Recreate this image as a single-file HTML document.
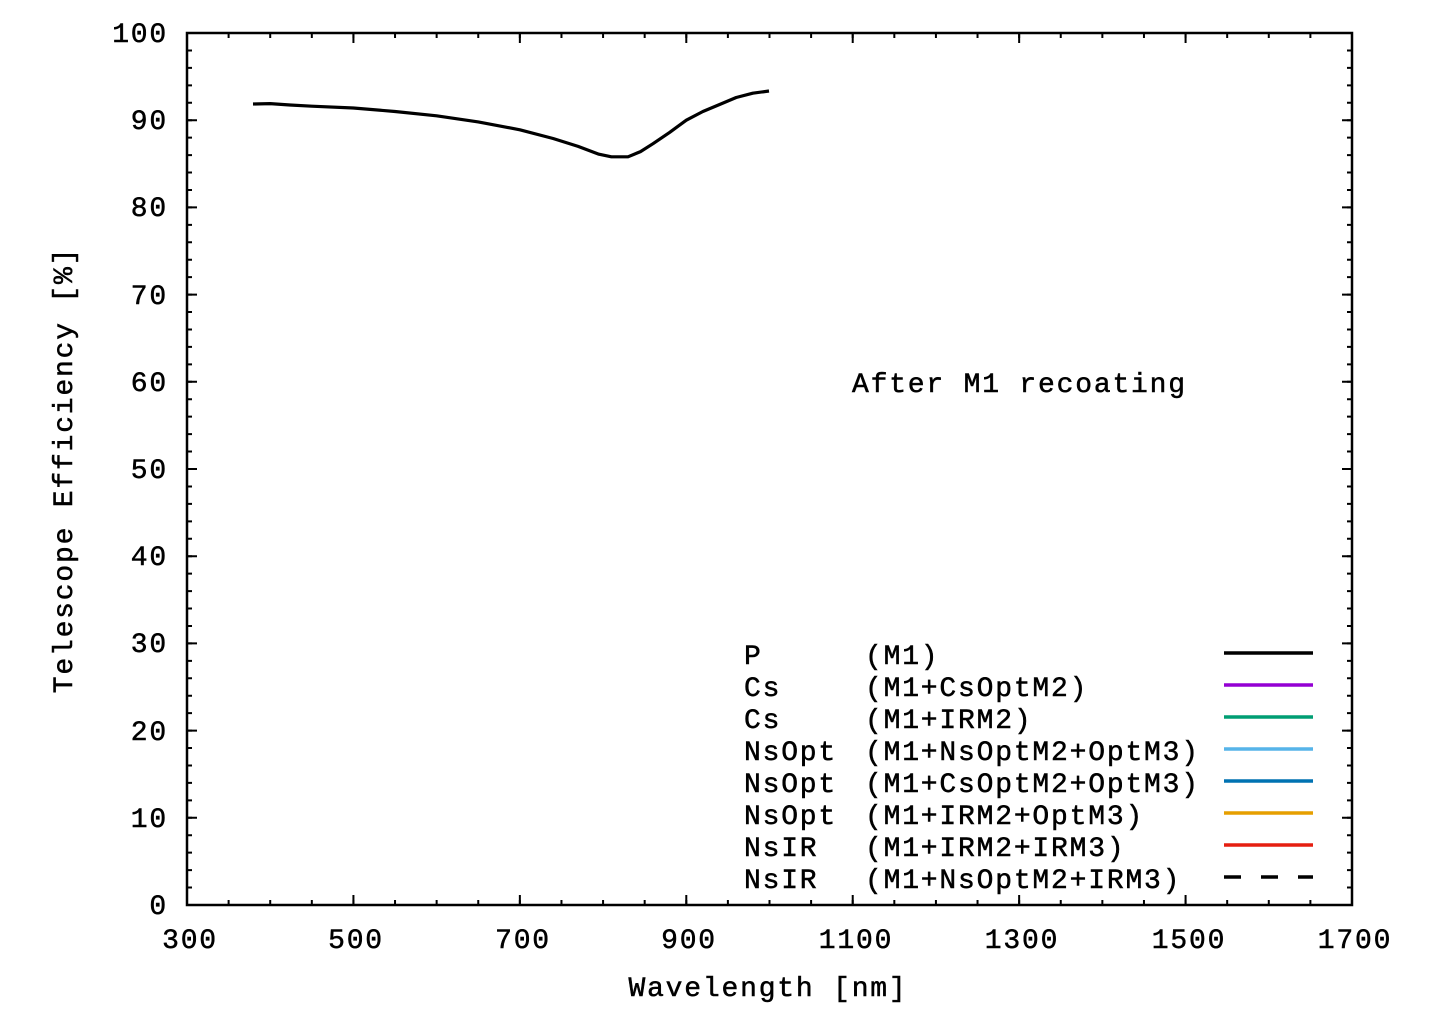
<!DOCTYPE html>
<html><head><meta charset="utf-8"><style>
html,body{margin:0;padding:0;background:#fff;}
svg text{font-family:"Liberation Mono","DejaVu Sans Mono",monospace;font-size:28px;letter-spacing:1.8px;fill:#000;stroke:#000;stroke-width:0.5;}
</style></head><body>
<svg width="1440" height="1008" viewBox="0 0 1440 1008" xmlns="http://www.w3.org/2000/svg">
<g stroke="#000" fill="none">
<line x1="186" x2="1353" y1="902.5" y2="902.5" stroke-width="5" stroke-dasharray="2 39.607"/>
<line x1="186" x2="1353" y1="35.5" y2="35.5" stroke-width="5" stroke-dasharray="2 39.607"/>
<line x1="186" x2="1353" y1="900" y2="900" stroke-width="10" stroke-dasharray="2 164.43"/>
<line x1="186" x2="1353" y1="38" y2="38" stroke-width="10" stroke-dasharray="2 164.43"/>
<line y1="906" y2="32" x1="189.5" x2="189.5" stroke-width="5" stroke-dasharray="2 15.44"/>
<line y1="906" y2="32" x1="1349.5" x2="1349.5" stroke-width="5" stroke-dasharray="2 15.44"/>
<line y1="906" y2="32" x1="192" x2="192" stroke-width="10" stroke-dasharray="2 85.2"/>
<line y1="906" y2="32" x1="1347" x2="1347" stroke-width="10" stroke-dasharray="2 85.2"/>
</g>
<rect x="187" y="33" width="1165" height="872" fill="none" stroke="#000" stroke-width="2.5"/>
<g text-anchor="middle">
<text x="190" y="948">300</text><text x="356" y="948">500</text><text x="523" y="948">700</text><text x="689" y="948">900</text>
<text x="856" y="948">1100</text><text x="1022" y="948">1300</text><text x="1189" y="948">1500</text><text x="1355" y="948">1700</text>
</g>
<g text-anchor="end">
<text x="168" y="914">0</text><text x="168" y="827">10</text><text x="168" y="740">20</text><text x="168" y="652">30</text>
<text x="168" y="565">40</text><text x="168" y="478">50</text><text x="168" y="391">60</text><text x="168" y="304">70</text>
<text x="168" y="216">80</text><text x="168" y="129">90</text><text x="168" y="42">100</text>
</g>
<text x="768" y="996" text-anchor="middle">Wavelength [nm]</text>
<text transform="translate(72,470) rotate(-90)" text-anchor="middle">Telescope Efficiency [%]</text>
<text x="852" y="392">After M1 recoating</text>
<polyline fill="none" stroke="#000" stroke-width="3.2" stroke-linejoin="round" points="253,104 270.2,103.6 290,105 311.8,106.2 353.4,108.0 395.0,111.5 436.6,115.8 478.3,121.9 519.9,129.8 553.1,138.5 578.1,146.4 598.9,154.2 611.4,156.8 628.0,156.8 640.5,151.6 653.0,143.7 669.6,132.4 686.3,120.2 702.9,111.5 719.6,104.5 736.2,97.5 752.8,93.2 769,91"/>
<g>
<text x="744" y="664">P</text><text x="865" y="664">(M1)</text>
<text x="744" y="696">Cs</text><text x="865" y="696">(M1+CsOptM2)</text>
<text x="744" y="728">Cs</text><text x="865" y="728">(M1+IRM2)</text>
<text x="744" y="760">NsOpt</text><text x="865" y="760">(M1+NsOptM2+OptM3)</text>
<text x="744" y="792">NsOpt</text><text x="865" y="792">(M1+CsOptM2+OptM3)</text>
<text x="744" y="824">NsOpt</text><text x="865" y="824">(M1+IRM2+OptM3)</text>
<text x="744" y="856">NsIR</text><text x="865" y="856">(M1+IRM2+IRM3)</text>
<text x="744" y="888">NsIR</text><text x="865" y="888">(M1+NsOptM2+IRM3)</text>
<g stroke-width="3.5">
<line x1="1224" x2="1313" y1="653" y2="653" stroke="#000"/>
<line x1="1224" x2="1313" y1="685" y2="685" stroke="#9400d3"/>
<line x1="1224" x2="1313" y1="717" y2="717" stroke="#009e73"/>
<line x1="1224" x2="1313" y1="749" y2="749" stroke="#56b4e9"/>
<line x1="1224" x2="1313" y1="781" y2="781" stroke="#0072b2"/>
<line x1="1224" x2="1313" y1="813" y2="813" stroke="#e69f00"/>
<line x1="1224" x2="1313" y1="845" y2="845" stroke="#e51e10"/>
<line x1="1224" x2="1313" y1="877" y2="877" stroke="#000" stroke-dasharray="17,20"/>
</g></g>
</svg>
</body></html>
